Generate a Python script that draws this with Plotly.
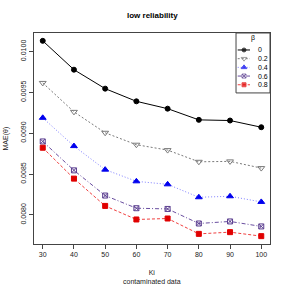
import plotly.graph_objects as go

ki = [30, 40, 50, 60, 70, 80, 90, 100]
beta_labels = ["0", "0.2", "0.4", "0.6", "0.8"]
mae_b0 = [0.01013, 0.009777, 0.009545, 0.00939, 0.0093, 0.009163, 0.009155, 0.009073]
mae_b02 = [0.009615, 0.009261, 0.009005, 0.008859, 0.008793, 0.00865, 0.008655, 0.008573]
mae_b04 = [0.009188, 0.008842, 0.008554, 0.008411, 0.008374, 0.008216, 0.008228, 0.008159]
mae_b06 = [0.008899, 0.008545, 0.008237, 0.008082, 0.008073, 0.007895, 0.00792, 0.007859]
mae_b08 = [0.008822, 0.008444, 0.00811, 0.007944, 0.007956, 0.007768, 0.007789, 0.00774]
y_ticks = [0.0080, 0.0085, 0.0090, 0.0095, 0.0100]
y_ticklabels = ["0.0080", "0.0085", "0.0090", "0.0095", "0.0100"]

series = [mae_b0, mae_b02, mae_b04, mae_b06, mae_b08]
colors = ["#000000", "#7a7a7a", "#0000ee", "#5a3d8f", "#e00000"]
line_colors = ["#000000", "#7a7a7a", "#8080ff", "#6a4fa0", "#f04040"]
dashes = ["solid", "2px,2px", "1px,2px", "4px,2px,1px,2px", "3px,2px"]
symbols = ["circle", "triangle-down-open", "triangle-up", "square-x-open", "square"]
sizes = [5, 6, 6, 5, 5]

FONT = "Liberation Sans, Arial, sans-serif"
fig = go.Figure()

for s, lab, c, lc, d, sym, sz in zip(series, beta_labels, colors, line_colors, dashes, symbols, sizes):
    fig.add_trace(go.Scatter(
        x=ki, y=s, mode="lines+markers", name=lab, showlegend=False,
        line=dict(color=lc, width=1, dash=d),
        marker=dict(color=c, symbol=sym, size=sz, line=dict(color=c, width=1)),
        xaxis="x", yaxis="y"))

# custom compact legend drawn on an auxiliary axis
for k, (lab, c, lc, d, sym, sz) in enumerate(zip(beta_labels, colors, line_colors, dashes, symbols, sizes), start=1):
    fig.add_trace(go.Scatter(
        x=[1.7, 8, 14], y=[k, k, k], mode="lines+markers", showlegend=False,
        line=dict(color=lc, width=1, dash=d),
        marker=dict(color=c, symbol=sym, size=[0, sz - 1, 0], line=dict(color=c, width=1)),
        xaxis="x2", yaxis="y2", hoverinfo="skip", cliponaxis=False))
    fig.add_annotation(x=20, y=k, xref="x2", yref="y2", text=lab, showarrow=False,
                       xanchor="left", yanchor="middle", font=dict(size=7, color="#000", family=FONT))

fig.add_annotation(x=17, y=-0.35, xref="x2", yref="y2", text="β", showarrow=False,
                   xanchor="center", yanchor="middle", font=dict(size=7, color="#000", family=FONT))
fig.add_shape(type="rect", xref="paper", yref="paper", x0=0.856, x1=1.0, y0=0.716, y1=1.0,
              line=dict(color="#444", width=1))

fig.update_layout(
    width=287, height=287,
    margin=dict(l=34, r=17, t=33, b=43),
    paper_bgcolor="white", plot_bgcolor="white",
    font=dict(family=FONT, size=7, color="#222"),
    xaxis=dict(range=[27.2, 102.8], tickvals=ki, ticks="outside", ticklen=4, tickcolor="#444",
               showline=True, mirror=True, linecolor="#444", linewidth=1, showgrid=False,
               zeroline=False, tickfont=dict(size=7, color="#222")),
    yaxis=dict(range=[0.007644, 0.010226], tickvals=y_ticks, ticktext=y_ticklabels, tickangle=-90,
               ticks="outside", ticklen=4, tickcolor="#444",
               showline=True, mirror=True, linecolor="#444", linewidth=1, showgrid=False,
               zeroline=False, tickfont=dict(size=7, color="#222")),
    xaxis2=dict(domain=[0.856, 1.0], range=[0, 34], visible=False, anchor="y2"),
    yaxis2=dict(domain=[0.716, 1.0], range=[5.94, -0.954], visible=False, anchor="x2"),
)

fig.add_annotation(x=0.5, y=1 + (33 - 16) / 211, xref="paper", yref="paper", text="<b>low reliability</b>",
                   showarrow=False, font=dict(size=8, color="#000", family=FONT), yanchor="middle")
fig.add_annotation(x=0.5, y=-(277 - 244) / 211, xref="paper", yref="paper", text="Ki<br>contaminated data",
                   showarrow=False, font=dict(size=7, color="#222", family=FONT), yanchor="middle")
fig.add_annotation(x=-(34 - 5) / 236, y=0.5, xref="paper", yref="paper", text="MAE(θ)",
                   textangle=-90, showarrow=False, font=dict(size=7, color="#222", family=FONT),
                   xanchor="center")

fig.write_html("out.html", config={"displayModeBar": False},
               post_script="document.body.style.margin='0px';")
